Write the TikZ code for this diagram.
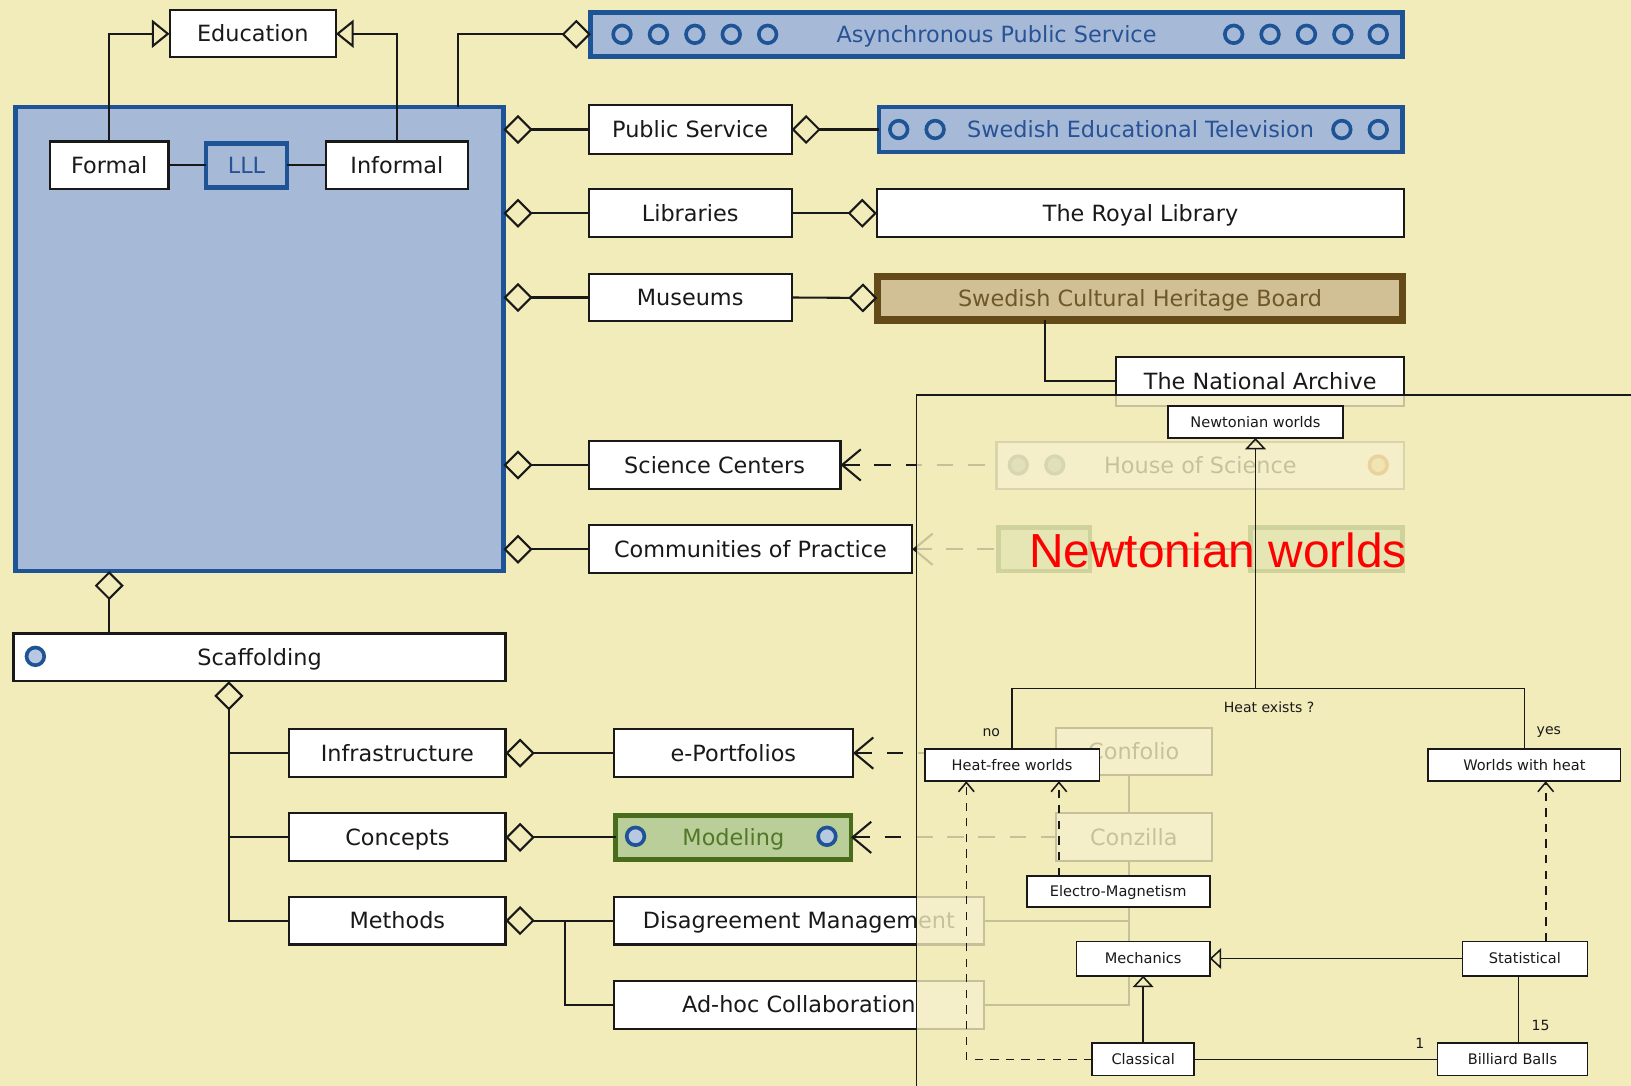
\documentclass[tikz,border=0pt]{standalone}
\usepackage{fontspec}
\setmainfont{DejaVu Sans}
\newfontfamily\titlefont{Liberation Sans}
\usetikzlibrary{arrows.meta}

\definecolor{paper}{RGB}{242,236,187}
\definecolor{ctxfill}{RGB}{166,186,216}
\definecolor{ctxline}{RGB}{30,84,150}
\definecolor{ctxtext}{RGB}{40,82,150}
\definecolor{tanfill}{RGB}{209,192,150}
\definecolor{tanline}{RGB}{100,74,24}
\definecolor{tantext}{RGB}{110,88,40}
\definecolor{grnfill}{RGB}{185,206,152}
\definecolor{grnline}{RGB}{72,108,28}
\definecolor{grntext}{RGB}{80,120,40}
\definecolor{ink}{RGB}{25,25,25}
\definecolor{greyring}{RGB}{110,130,140}
\definecolor{greyfill}{RGB}{165,178,182}
\definecolor{orangering}{RGB}{205,110,40}
\definecolor{orangefill}{RGB}{240,200,150}

\tikzset{
  every node/.style={inner sep=0pt, outer sep=0pt},
  box/.style={draw=ink, fill=white, line width=2pt, text=ink,
    font=\fontsize{21.5}{24}\selectfont, text height=15.5pt, text depth=0pt},
  ctxbox/.style={box, draw=ctxline, fill=ctxfill, line width=4.5pt, text=ctxtext},
  tanbox/.style={box, draw=tanline, fill=tanfill, line width=7pt, text=tantext},
  grnbox/.style={box, draw=grnline, fill=grnfill, line width=4.5pt, text=grntext},
  ghostbox/.style={box, draw=ink!60},
  smallbox/.style={draw=ink, fill=white, line width=1.6pt, text=ink,
    font=\fontsize{14}{16}\selectfont, text height=10.5pt, text depth=0pt},
  tag/.style={text=ink, font=\fontsize{13.5}{15}\selectfont},
  ring/.style={draw=ctxline, fill=ctxfill, line width=3.5pt},
  conn/.style={draw=ink, line width=2pt},
  agg/.style={conn, -{Diamond[open, length=28pt, width=28pt]}},
  gen/.style={conn, -{Triangle[open, length=17pt, width=27pt]}},
  dep/.style={conn, dash pattern=on 16pt off 14pt, {Straight Barb[length=18pt, width=30pt]}-},
  thin/.style={draw=ink, line width=1.5pt},
  tgen/.style={thin, -{Triangle[open, length=11pt, width=20pt]}},
  tdep/.style={thin, dash pattern=on 8pt off 7pt, -{Straight Barb[length=9pt, width=15pt]}},
}

\begin{document}
\begin{tikzpicture}[x=1pt, y=-1pt]
\fill[paper] (0,0) rectangle (1568,1044);
\useasboundingbox (0,0) rectangle (1568,1044);

% ---------- lifelong learning context ----------
\node[ctxbox, minimum width=469pt, minimum height=446pt] (ctx) at (249.5,326) {};
\node[box, minimum width=160pt, minimum height=45pt] (edu) at (243,32.5) {Education};
\node[box, minimum width=114pt, minimum height=46pt] (formal) at (105,159) {Formal};
\node[ctxbox, minimum width=78pt, minimum height=42pt] (lll) at (237,159) {LLL};
\node[box, minimum width=137pt, minimum height=46pt] (informal) at (381.5,159) {Informal};

% ---------- institutions ----------
\node[ctxbox, minimum width=780pt, minimum height=42pt] (async) at (958,33) {Asynchronous Public Service};
\node[box, minimum width=195pt, minimum height=47pt] (ps) at (663.5,124.5) {Public Service};
\node[ctxbox, minimum width=503pt, minimum height=43pt] (set) at (1096.5,124.5) {Swedish Educational Television};
\node[box, minimum width=195pt, minimum height=46pt] (lib) at (663.5,205) {Libraries};
\node[box, minimum width=507pt, minimum height=46pt] (rl) at (1096.5,205) {The Royal Library};
\node[box, minimum width=195pt, minimum height=46pt] (mus) at (663.5,286) {Museums};
\node[tanbox, minimum width=505pt, minimum height=42pt] (schb) at (1096,286.5) {Swedish Cultural Heritage Board};
\node[box, minimum width=277pt, minimum height=47pt] (na) at (1211.5,366.5) {The National Archive};
\node[box, minimum width=242pt, minimum height=46pt] (sc) at (687,447) {Science Centers};
\node[ghostbox, minimum width=392pt, minimum height=45pt] (hos) at (1154,447.5) {House of Science};
\node[box, minimum width=311pt, minimum height=46pt] (cop) at (721.5,528) {Communities of Practice};
\node[grnbox, minimum width=88pt, minimum height=42pt] (gA) at (1004,528) {};
\node[grnbox, minimum width=146pt, minimum height=42pt] (gB) at (1275,528) {};

% ---------- scaffolding ----------
\node[box, minimum width=473pt, minimum height=46pt] (scaf) at (249.5,632) {Scaffolding};
\node[box, minimum width=208pt, minimum height=46pt] (infra) at (382,724) {Infrastructure};
\node[box, minimum width=208pt, minimum height=46pt] (conc) at (382,805) {Concepts};
\node[box, minimum width=208pt, minimum height=46pt] (meth) at (382,885) {Methods};
\node[box, minimum width=230pt, minimum height=46pt] (eport) at (705,724) {e-Portfolios};
\node[grnbox, minimum width=226pt, minimum height=42pt] (model) at (705,805) {Modeling};
\node[box, minimum width=356pt, minimum height=46pt] (dm) at (768,885) {Disagreement Management};
\node[box, minimum width=356pt, minimum height=46pt] (ah) at (768,966) {Ad-hoc Collaboration};
\node[box, minimum width=150pt, minimum height=45pt] (confolio) at (1090,722.5) {Confolio};
\node[box, minimum width=150pt, minimum height=46pt] (conzilla) at (1090,805) {Conzilla};

% rings inside the boxes
\foreach \x in {598,633,668,703,738,1186,1221,1256,1291,1325}
  \draw[ring] (\x,33) circle[radius=8.5pt];
\foreach \x in {864,899,1290,1325}
  \draw[ring] (\x,124.5) circle[radius=8.5pt];
\draw[ring, fill=ctxfill!80!white] (34,631) circle[radius=8.5pt];
\foreach \x in {611,795}
  \draw[ring, fill=ctxfill!80!white] (\x,804) circle[radius=8.5pt];
\foreach \x in {979,1014}
  \draw[ring, draw=greyring, fill=greyfill] (\x,447) circle[radius=8.5pt];
\draw[ring, draw=orangering, fill=orangefill] (1325,447) circle[radius=8.5pt];

% ---------- connectors ----------
\draw[gen] (formal.north) |- (edu.west);
\draw[gen] (informal.north) |- (edu.east);
\draw[conn] (formal) -- (lll) -- (informal);
\draw[agg] ([xshift=190.5pt]ctx.north) |- (async.west);
\draw[agg] (ps.west) -- (ps.west -| ctx.east);
\draw[agg] (set.west) -- (ps.east);
\draw[agg] (lib.west) -- (lib.west -| ctx.east);
\draw[agg] (lib.east) -- (rl.west);
\draw[agg] (mus.west) -- (mus.west -| ctx.east);
\draw[agg] (mus.east) -- (schb.west);
\draw[conn] ([xshift=-91pt]schb.south) |- (na.west);
\draw[agg] (sc.west) -- (sc.west -| ctx.east);
\draw[agg] (cop.west) -- (cop.west -| ctx.east);
\draw[dep] (sc.east) -- (sc.east -| hos.west);
\draw[dep] (cop.east) -- (gA.west);
\draw[conn] (gA.east) -- (gB.west);

\draw[agg] ([xshift=-144.5pt]scaf.north) -- ([xshift=-144.5pt]ctx.south);
\draw[agg] (meth.west) -| ([xshift=-29.5pt]scaf.south);
\draw[conn] (infra.west) -- ++(-58,0);
\draw[conn] (conc.west) -- ++(-58,0);
\draw[agg] (eport.west) -- (infra.east);
\draw[agg] (model.west) -- (conc.east);
\draw[agg] (dm.west) -- (meth.east);
\draw[conn] (ah.west) -| ([xshift=-47pt]dm.west);
\draw[dep] (eport.east) -- (eport.east -| confolio.west);
\draw[dep] (model.east) -- (model.east -| conzilla.west);
\draw[conn] ([xshift=-5pt]confolio.south) -- ([xshift=-5pt]conzilla.north);
\draw[conn] ([xshift=-5pt]conzilla.south) |- (dm.east);
\draw[conn] ([xshift=-5pt]conzilla.south) |- (ah.east);

% ---------- overlay panel ----------
\coordinate (pnw) at (881,380);
\coordinate (pne) at (1568,380);
\coordinate (psw) at (881,1044);
\fill[paper, opacity=0.8] (pnw) rectangle (1568,1044);
\draw[thin] (pne) -- (pnw) -- (psw);

\node[smallbox, minimum width=168pt, minimum height=31pt] (nw) at (1207,405.5) {Newtonian worlds};
\node[smallbox, minimum width=168pt, minimum height=31pt] (hf) at (973,735.5) {Heat-free worlds};
\node[smallbox, minimum width=185pt, minimum height=31pt] (wh) at (1465.5,735.5) {Worlds with heat};
\node[smallbox, minimum width=176pt, minimum height=30pt] (em) at (1075,857) {Electro-Magnetism};
\node[smallbox, minimum width=128pt, minimum height=33pt] (mech) at (1099,921.5) {Mechanics};
\node[smallbox, minimum width=120pt, minimum height=33pt] (stat) at (1466,921.5) {Statistical};
\node[smallbox, minimum width=98pt, minimum height=31pt] (class) at (1099,1018.5) {Classical};
\node[smallbox, minimum width=144pt, minimum height=31pt] (bb) at (1454,1018.5) {Billiard Balls};

\coordinate (fork) at (1207,662);
\draw[thin] (hf.north) |- (fork) -| (wh.north);
\draw[tgen] (fork) -- (nw.south);
\node[tag] (q) at (1220,680) {Heat exists ?};
\node[tag] (no) at (953,704) {no};
\node[tag] (yes) at (1489,704) {yes};

\draw[tdep] (class.west) -| ([xshift=-44pt]hf.south);
\draw[tdep] ([xshift=-57pt]em.north) -- ([xshift=45pt]hf.south);
\draw[tdep] ([xshift=20pt]stat.north) -- ([xshift=20pt]stat.north |- wh.south);
\draw[tgen] (stat.west) -- (mech.east);
\draw[tgen] (class.north) -- (mech.south);
\draw[thin] ([xshift=-6pt]stat.south) -- ([xshift=-6pt]stat.south |- bb.north);
\draw[thin] (class.east) -- (bb.west);
\node[tag] (m15) at (1481,986) {15};
\node[tag] (m1) at (1365,1003) {1};

\node[text=red, font=\titlefont\fontsize{46}{50}\selectfont, anchor=base] (title) at (1171,546) {Newtonian worlds};
\end{tikzpicture}
\end{document}
